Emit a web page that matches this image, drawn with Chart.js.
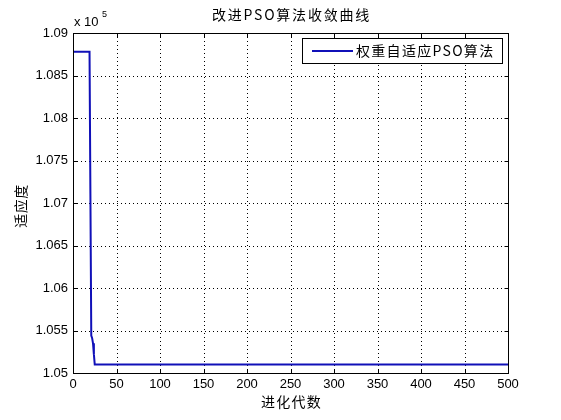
<!DOCTYPE html>
<html><head><meta charset="utf-8">
<script src="https://cdn.jsdelivr.net/npm/chart.js@4/dist/chart.umd.min.js"></script>
<style>html,body{margin:0;padding:0;background:#fff}#wrap{width:561px;height:420px;position:relative}</style>
</head><body><div id="wrap"><canvas id="c"></canvas></div>
<script>
const titleText = '改进PSO算法收敛曲线';
const xTitle = '进化代数';
const yTitle = '适应度';
const seriesLabel = '权重自适应PSO算法';
const multiplierBase = 'x 10';
const multiplierExp = '5';
const iterations = [1, 19, 20, 21, 22, 23, 24, 25, 500];
const fitness = [108780, 108780, 107110, 105440, 105410, 105350, 105220, 105100, 105100];
const xTicks = [0, 50, 100, 150, 200, 250, 300, 350, 400, 450, 500];
const yTicks = [105000, 105500, 106000, 106500, 107000, 107500, 108000, 108500, 109000];
const yTickLabels = ['1.05', '1.055', '1.06', '1.065', '1.07', '1.075', '1.08', '1.085', '1.09'];

const LATIN = '"Liberation Sans", Arial, "Noto Sans CJK SC", sans-serif';
const CJK = '"Noto Sans CJK SC", "Liberation Sans", sans-serif';
const lineColor = '#1010b8';

const frame = {
  id: 'frame',
  beforeDatasetsDraw(chart) {
    const {ctx, chartArea: a, scales: {x, y}} = chart;
    ctx.save();
    ctx.strokeStyle = '#000';
    ctx.lineWidth = 1;
    ctx.setLineDash([1, 3]);
    xTicks.slice(1, -1).forEach(v => {
      const px = Math.round(x.getPixelForValue(v)) + 0.5;
      ctx.beginPath(); ctx.moveTo(px, a.top); ctx.lineTo(px, a.bottom); ctx.stroke();
    });
    yTicks.slice(1, -1).forEach(v => {
      const py = Math.round(y.getPixelForValue(v)) + 0.5;
      ctx.beginPath(); ctx.moveTo(a.left, py); ctx.lineTo(a.right, py); ctx.stroke();
    });
    ctx.restore();
  },
  afterDatasetsDraw(chart) {
    const {ctx, chartArea: a, scales: {x, y}} = chart;
    ctx.save();
    ctx.strokeStyle = '#000';
    ctx.lineWidth = 1;
    const L = Math.round(a.left) + 0.5, R = Math.round(a.right) + 0.5;
    const T = Math.round(a.top) + 0.5, B = Math.round(a.bottom) + 0.5;
    ctx.strokeRect(L, T, R - L, B - T);
    const tl = 4;
    ctx.beginPath();
    xTicks.forEach(v => {
      const px = Math.round(x.getPixelForValue(v)) + 0.5;
      ctx.moveTo(px, B); ctx.lineTo(px, B - tl);
      ctx.moveTo(px, T); ctx.lineTo(px, T + tl);
    });
    yTicks.forEach(v => {
      const py = Math.round(y.getPixelForValue(v)) + 0.5;
      ctx.moveTo(L, py); ctx.lineTo(L + tl, py);
      ctx.moveTo(R, py); ctx.lineTo(R - tl, py);
    });
    ctx.stroke();

    // legend
    const lx = 302.5, ly = 38.5, lw = 200, lh = 25;
    ctx.fillStyle = '#fff';
    ctx.fillRect(lx, ly, lw, lh);
    ctx.strokeRect(lx, ly, lw, lh);
    ctx.strokeStyle = lineColor;
    ctx.lineWidth = 2;
    ctx.beginPath(); ctx.moveTo(312, 51); ctx.lineTo(353, 51); ctx.stroke();
    ctx.fillStyle = '#000';
    ctx.font = '14px ' + CJK;
    ctx.letterSpacing = '1.3px';
    ctx.textBaseline = 'middle';
    ctx.textAlign = 'left';
    ctx.fillText(chart.data.datasets[0].label, 356, 51);

    // title
    ctx.textAlign = 'center';
    ctx.font = '14px ' + CJK;
    ctx.letterSpacing = '1.8px';
    ctx.fillText(titleText, (a.left + a.right) / 2 + 1, 15);

    // x axis title
    ctx.letterSpacing = '1.2px';
    ctx.fillText(xTitle, (a.left + a.right) / 2 + 1, 402);

    // y axis title
    ctx.save();
    ctx.translate(21, (a.top + a.bottom) / 2 + 3);
    ctx.rotate(-Math.PI / 2);
    ctx.letterSpacing = '0.5px';
    ctx.fillText(yTitle, 0, 0);
    ctx.restore();

    // multiplier
    ctx.letterSpacing = '0px';
    ctx.textAlign = 'left';
    ctx.textBaseline = 'alphabetic';
    ctx.font = '13px ' + LATIN;
    ctx.fillText(multiplierBase, a.left + 1, 26);
    ctx.font = '9px ' + LATIN;
    ctx.fillText(multiplierExp, a.left + 29, 17);
    ctx.restore();
  }
};

new Chart(document.getElementById('c'), {
  type: 'line',
  data: {
    datasets: [{
      label: seriesLabel,
      data: iterations.map((it, i) => ({x: it, y: fitness[i]})),
      borderColor: lineColor,
      backgroundColor: lineColor,
      borderWidth: 2,
      pointRadius: 0,
      tension: 0,
      fill: false
    }]
  },
  options: {
    responsive: true,
    maintainAspectRatio: false,
    animation: false,
    devicePixelRatio: 1,
    layout: {padding: {top: 33, right: 53, left: 0, bottom: 0}},
    plugins: {legend: {display: false}, title: {display: false}, tooltip: {enabled: false}},
    scales: {
      x: {
        type: 'linear', min: 0, max: 500,
        afterBuildTicks: s => { s.ticks = xTicks.map(v => ({value: v})); },
        afterFit: s => { s.height = 47; },
        grid: {display: false, drawTicks: false},
        border: {display: false},
        ticks: {color: '#000', font: {family: LATIN, size: 13}, padding: 4, maxRotation: 0, autoSkip: false},
        title: {display: false}
      },
      y: {
        type: 'linear', min: 105000, max: 109000,
        afterBuildTicks: s => { s.ticks = yTicks.map(v => ({value: v})); },
        afterFit: s => { s.width = 73; },
        grid: {display: false, drawTicks: false},
        border: {display: false},
        ticks: {color: '#000', font: {family: LATIN, size: 13}, padding: 5, autoSkip: false,
          callback: (v) => { const i = yTicks.indexOf(v); return i >= 0 ? yTickLabels[i] : ''; }},
        title: {display: false}
      }
    }
  },
  plugins: [frame]
});
</script>
</body></html>
